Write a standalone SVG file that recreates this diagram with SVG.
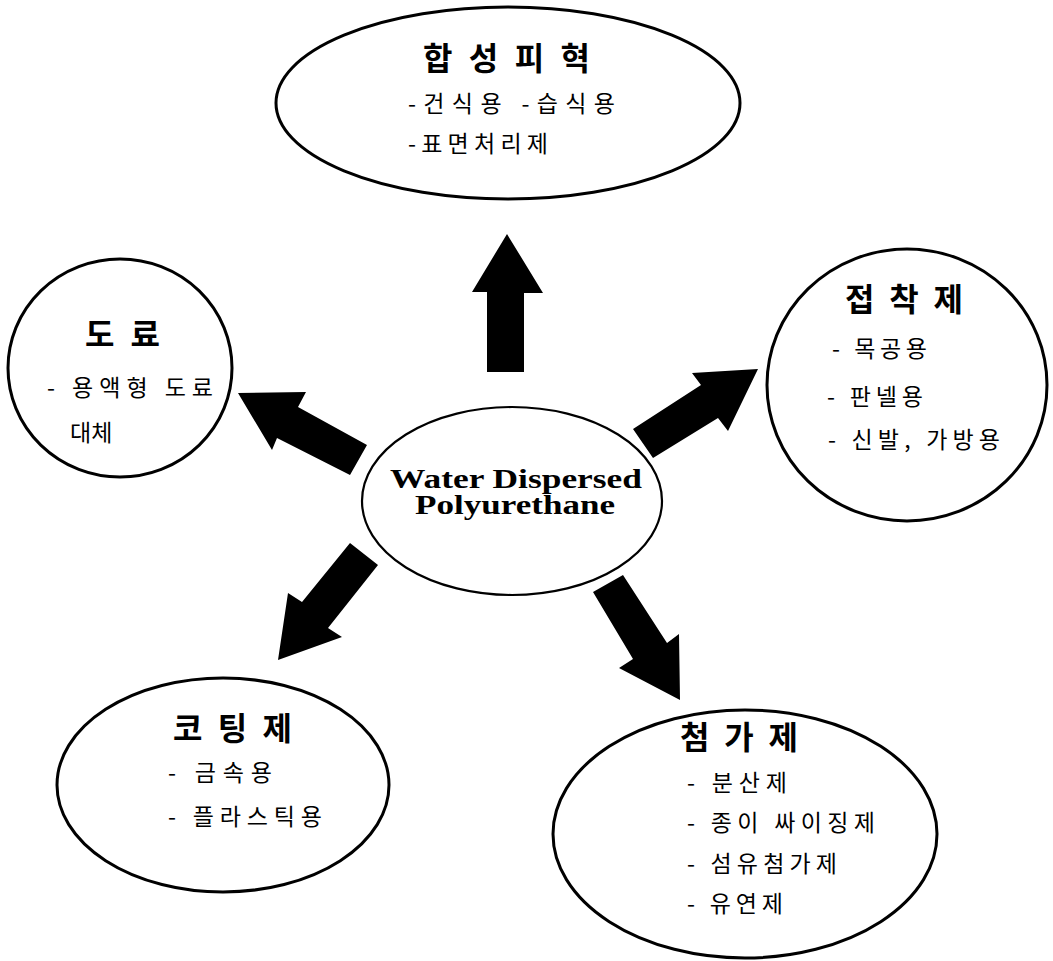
<svg xmlns="http://www.w3.org/2000/svg" width="1053" height="961" viewBox="0 0 1053 961">
<style>
.node{fill:#fff;stroke:#000;stroke-width:3}
.center{fill:#fff;stroke:#000;stroke-width:2.2}
.title{font-family:"Noto Sans CJK KR",sans-serif;font-weight:700;font-size:32px;fill:#000}
.item{font-family:"Noto Sans CJK KR",sans-serif;font-weight:400;font-size:23px;fill:#000}
.en{font-family:"Liberation Serif",serif;font-weight:700;font-size:28px;fill:#000}
.arrow{fill:#000;stroke:none}
</style>
<rect width="1053" height="961" fill="#fff"/>
<g id="connectors">
<polygon class="arrow" points="507,234 543,293 524,293 524,372 487,372 487,292 472,292"/>
<polygon class="arrow" points="238,393 306,392 298,407 367,445 350,475 277,438 272,450"/>
<polygon class="arrow" points="633,429 701,385 692,373 758,369 728,431 718,418 653,458"/>
<polygon class="arrow" points="350,543 378,565 328,628 342,637 278,660 288,593 302,602"/>
<polygon class="arrow" points="593,592 623,575 667,643 679,634 680,700 619,668 633,659"/>
</g>
<g id="node-synthetic-leather">
<ellipse class="node" cx="508" cy="103" rx="232" ry="96"/>
<text class="title" x="423" y="70" textLength="167" lengthAdjust="spacing">합 성 피 혁</text>
<text class="item" x="408" y="112" textLength="207" lengthAdjust="spacing">-건식용  -습식용</text>
<text class="item" x="408" y="152" textLength="140" lengthAdjust="spacing">-표면처리제</text>
</g>
<g id="node-paint">
<ellipse class="node" cx="120" cy="368" rx="112" ry="109"/>
<text class="title" x="85" y="346" textLength="75" lengthAdjust="spacing">도 료</text>
<text class="item" x="47" y="396" textLength="166" lengthAdjust="spacing">- 용액형 도료</text>
<text class="item" x="70" y="441">대체</text>
</g>
<g id="node-adhesive">
<ellipse class="node" cx="907" cy="385" rx="140" ry="136"/>
<text class="title" x="845" y="311" textLength="118" lengthAdjust="spacing">접 착 제</text>
<text class="item" x="832" y="357" textLength="95" lengthAdjust="spacing">- 목공용</text>
<text class="item" x="827" y="405" textLength="96" lengthAdjust="spacing">- 판넬용</text>
<text class="item" x="828" y="448" textLength="172" lengthAdjust="spacing">- 신발, 가방용</text>
</g>
<g id="node-center">
<ellipse class="center" cx="512" cy="501" rx="150" ry="94"/>
<text class="en" x="390" y="488" textLength="252" lengthAdjust="spacingAndGlyphs">Water Dispersed</text>
<text class="en" x="415" y="514" textLength="200" lengthAdjust="spacingAndGlyphs">Polyurethane</text>
</g>
<g id="node-coating">
<ellipse class="node" cx="223" cy="785" rx="166" ry="107"/>
<text class="title" x="173" y="740" textLength="119" lengthAdjust="spacing">코 팅 제</text>
<text class="item" x="168" y="781" textLength="104" lengthAdjust="spacing">- 금속용</text>
<text class="item" x="168" y="825" textLength="154" lengthAdjust="spacing">- 플라스틱용</text>
</g>
<g id="node-additive">
<ellipse class="node" cx="745" cy="834" rx="192" ry="124"/>
<text class="title" x="680" y="749" textLength="118" lengthAdjust="spacing">첨 가 제</text>
<text class="item" x="687" y="791" textLength="100" lengthAdjust="spacing">- 분산제</text>
<text class="item" x="687" y="831" textLength="188" lengthAdjust="spacing">- 종이 싸이징제</text>
<text class="item" x="687" y="872" textLength="150" lengthAdjust="spacing">- 섬유첨가제</text>
<text class="item" x="687" y="912" textLength="96" lengthAdjust="spacing">- 유연제</text>
</g>
</svg>
